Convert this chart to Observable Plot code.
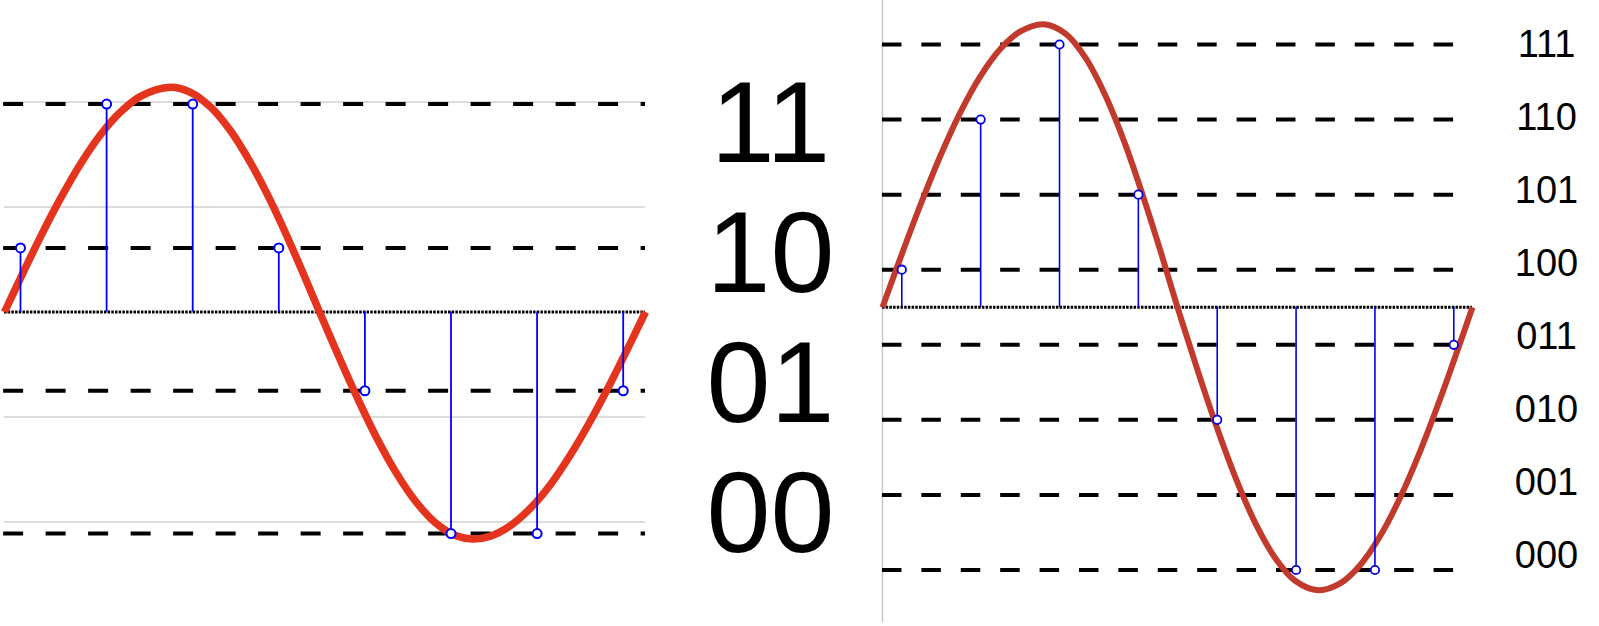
<!DOCTYPE html>
<html><head><meta charset="utf-8">
<script src="https://cdn.jsdelivr.net/npm/d3@7"></script>
<script src="https://cdn.jsdelivr.net/npm/@observablehq/plot@0.6"></script>
<style>
html,body{margin:0;padding:0;background:#fff;}
#wrap{position:relative;width:1599px;height:626px;overflow:hidden;background:#fff;}
#wrap > svg{position:absolute;left:0;top:0;}
</style></head><body><div id="wrap"></div>
<script>
// ---------- 2-bit panel (left) ----------
const codes2   = ["11", "10", "01", "00"];
const levels2  = [0.99, 0.305, -0.375, -1.055];      // quantization levels
const grid2    = [1, 0.5, -0.5, -1];                 // light gray reference lines
const sampleT  = [0, 1, 2, 3, 4, 5, 6, 7];           // sample index
const samples2 = [0.305, 0.99, 0.99, 0.305, -0.375, -1.055, -1.055, -0.375];
const curve2T  = [-0.186, 0, 0.232, 0.465, 0.697, 0.929, 1.161, 1.394, 1.742, 1.974, 2.207, 2.439, 2.671, 2.904, 3.136, 3.310, 3.473,
                  3.659, 3.891, 4.123, 4.355, 4.588, 4.820, 5.052, 5.250, 5.459, 5.691, 5.923, 6.156, 6.388, 6.620, 6.853, 7.085, 7.259];
const curve2V  = [0, 0.161, 0.358, 0.541, 0.705, 0.844, 0.952, 1.027, 1.070, 1.046, 0.976, 0.863, 0.711, 0.529, 0.323, 0.158, 0,
                  -0.177, -0.390, -0.588, -0.760, -0.901, -1.004, -1.064, -1.081, -1.067, -1.017, -0.934, -0.821, -0.680, -0.518, -0.338, -0.147, 0];

// ---------- 3-bit panel (right) ----------
const codes3   = ["111", "110", "101", "100", "011", "010", "001", "000"];
const levels3  = [3.5, 2.5, 1.5, 0.5, -0.5, -1.5, -2.5, -3.5];
const samples3 = [0.5, 2.5, 3.5, 1.5, -1.5, -3.5, -3.5, -0.5];
const curve3T  = [-0.245, -0.017, 0.237, 0.491, 0.744, 0.998, 1.252, 1.505, 1.797, 2.076, 2.330, 2.583, 2.837, 3.090, 3.281, 3.496,
                  3.724, 3.978, 4.232, 4.485, 4.739, 4.992, 5.284, 5.563, 5.817, 6.070, 6.324, 6.578, 6.831, 7.059, 7.237];
const curve3V  = [0, 0.658, 1.365, 2.021, 2.600, 3.080, 3.443, 3.675, 3.770, 3.645, 3.322, 2.817, 2.159, 1.380, 0.747, 0,
                  -0.751, -1.549, -2.269, -2.879, -3.346, -3.647, -3.770, -3.675, -3.429, -3.041, -2.526, -1.906, -1.210, -0.537, 0];

const FONT = "'Liberation Sans', Arial, Helvetica, sans-serif";
const W = 1599, H = 626;
const wrap = document.getElementById("wrap");

const curve2 = curve2T.map((t, i) => ({t, v: curve2V[i]}));
const curve3 = curve3T.map((t, i) => ({t, v: curve3V[i]}));
const pts2 = sampleT.map((t, i) => ({t, v: samples2[i]}));
const pts3 = sampleT.map((t, i) => ({t, v: samples3[i]}));

const ext2 = d3.extent(curve2T);
const ext3 = d3.extent(curve3T);
const dashExt3 = [ext3[0], d3.max(sampleT)];

const base = {width: W, height: H, margin: 0, style: {background: "transparent", overflow: "visible", fontFamily: FONT}};

// Left chart
const left = Plot.plot({
  ...base,
  x: {domain: [0, 7], range: [20, 622.7], axis: null},
  y: {domain: [-1, 1], range: [521.5, 101.5], axis: null},
  marks: [
    Plot.ruleY(grid2, {y: d => d, x1: ext2[0], x2: ext2[1], stroke: "#b8b8b8", strokeWidth: 1}),
    Plot.ruleY(levels2, {y: d => d, x1: ext2[0] - 0.01, x2: ext2[1], stroke: "#000", strokeWidth: 4, strokeDasharray: "20,22.5"}),
    Plot.ruleY([0], {x1: ext2[0], x2: ext2[1], stroke: "#000", strokeWidth: 3, strokeDasharray: "2.5,1.2"}),
    Plot.line(curve2, {x: "t", y: "v", curve: "catmull-rom", stroke: "#e4341e", strokeWidth: 7.5, strokeLinecap: "butt"}),
    Plot.ruleX(pts2, {x: "t", y1: 0, y2: "v", stroke: "#0000ff", strokeWidth: 1.8}),
    Plot.dot(pts2, {x: "t", y: "v", r: 4.5, fill: "white", stroke: "#0000ff", strokeWidth: 2})
  ]
});
wrap.appendChild(left);

// Left code labels
const leftLabels = Plot.plot({
  ...base,
  marginLeft: 700, marginRight: W - 840,
  y: {type: "point", domain: codes2, range: [161, 551], padding: 0, axis: null},
  marks: [
    Plot.text(codes2, {y: d => d, text: d => d, fontSize: 115, fill: "#000", textAnchor: "middle", lineAnchor: "bottom", fontFamily: FONT})
  ]
});
wrap.appendChild(leftLabels);

// Right chart
const right = Plot.plot({
  ...base,
  x: {domain: [0, 7], range: [901.3, 1453.3], axis: null},
  y: {domain: [-3.5, 3.5], range: [569.5, 44], axis: null},
  marks: [
    Plot.ruleX([ext3[0]], {x: d => d, y1: -4.2, y2: 4.2, stroke: "#c8c8c8", strokeWidth: 1.5}),
    Plot.ruleY(levels3, {y: d => d, x1: dashExt3[0], x2: dashExt3[1], stroke: "#000", strokeWidth: 4, strokeDasharray: "19.5,19.9"}),
    Plot.ruleY([0], {x1: ext3[0], x2: ext3[1], stroke: "#000", strokeWidth: 3, strokeDasharray: "2.5,1.2"}),
    Plot.line(curve3, {x: "t", y: "v", curve: "catmull-rom", stroke: "#c23a2b", strokeWidth: 6, strokeLinecap: "butt"}),
    Plot.ruleX(pts3, {x: "t", y1: 0, y2: "v", stroke: "#0000ee", strokeWidth: 1.6}),
    Plot.dot(pts3, {x: "t", y: "v", r: 4.2, fill: "white", stroke: "#0000ee", strokeWidth: 1.8})
  ]
});
wrap.appendChild(right);

// Right code labels
const rightLabels = Plot.plot({
  ...base,
  marginLeft: 1500, marginRight: W - 1592,
  y: {type: "point", domain: codes3, range: [52.6, 570], padding: 0, axis: null},
  marks: [
    Plot.text(codes3, {y: d => d, text: d => d, fontSize: 38, fill: "#000", textAnchor: "middle", lineAnchor: "bottom", fontFamily: FONT})
  ]
});
wrap.appendChild(rightLabels);
</script></body></html>
